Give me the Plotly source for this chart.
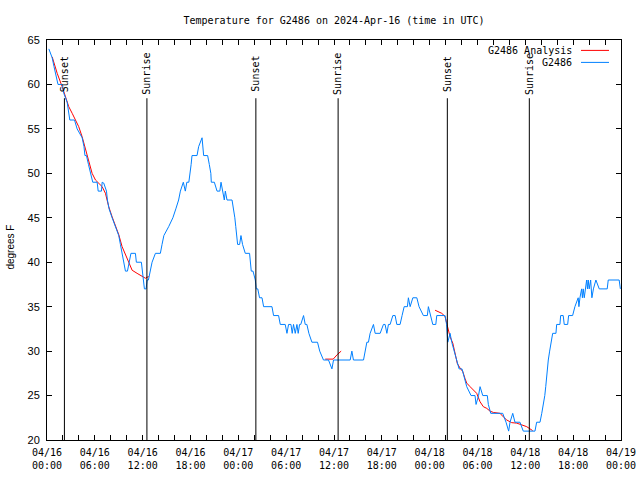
import pandas as pd
import plotly.graph_objects as go

BASE = pd.Timestamp("2024-04-16 00:00")

# Observed temperatures (hours since 2024-04-16 00:00 UTC, degrees F)
obs_hours = [0.23, 0.65, 0.88, 1.13, 1.38, 1.94, 2.11, 2.53, 2.69, 2.86, 3.45, 3.78, 4.41, 4.64,
             4.76, 4.95, 5.20, 5.45, 5.74, 6.29, 6.42, 6.83, 6.92, 7.12, 7.46, 7.58, 7.79, 8.17,
             8.58, 9.00, 9.21, 9.42, 9.62, 9.84, 10.09, 10.34, 10.53, 11.09, 11.21, 11.84, 12.05,
             12.22, 12.43, 12.56, 12.72, 12.97, 13.18, 13.60, 14.22, 14.43, 14.66, 15.26, 15.79,
             16.16, 16.51, 16.73, 17.10, 17.35, 17.54, 17.79, 17.98, 18.08, 18.19, 18.82, 19.02,
             19.45, 19.65, 20.15, 20.36, 20.55, 20.61, 20.99, 21.33, 21.68, 21.83, 22.05, 22.24,
             22.37, 22.58, 23.21, 23.41, 23.56, 23.68, 23.81, 23.91, 24.16, 24.33, 24.53, 24.87,
             25.41, 25.50, 25.62, 25.84, 26.13, 26.25, 26.44, 26.66, 26.97, 27.17, 28.22, 28.42,
             29.05, 29.26, 29.88, 30.10, 30.30, 30.60, 30.76, 30.92, 31.14, 31.35, 31.51, 31.68,
             31.83, 32.18, 32.39, 32.60, 32.85, 33.23, 33.93, 34.21, 34.68, 35.31, 35.74, 35.94,
             38.03, 38.24, 38.44, 39.70, 39.91, 40.12, 40.32, 40.53, 40.95, 41.16, 41.79, 42.20,
             42.41, 42.63, 42.83, 43.04, 43.38, 43.67, 43.88, 44.29, 44.54, 44.80, 45.21, 45.33,
             45.55, 45.89, 46.39, 46.67, 47.21, 47.71, 47.84, 48.12, 48.39, 48.77, 48.89, 49.93,
             50.12, 50.27, 50.56, 50.77, 51.10, 51.37, 51.69, 52.06, 52.35, 52.65, 53.19, 53.69,
             53.82, 54.13, 54.32, 54.66, 55.23, 55.36, 55.66, 57.16, 57.58, 57.91, 58.08, 58.42,
             58.70, 59.33, 59.74, 61.21, 61.42, 61.84, 62.06, 62.28, 62.44, 62.56, 62.65, 62.78,
             62.88, 63.05, 63.21, 63.43, 63.84, 63.93, 64.34, 64.43, 64.75, 64.88, 65.31, 65.43,
             65.93, 66.22, 66.63, 66.72, 66.85, 67.06, 67.16, 67.26, 67.39, 67.51, 67.69, 67.79,
             67.89, 68.01, 68.19, 68.35, 68.54, 68.85, 69.27, 70.27, 70.40, 71.77, 71.92]
obs_temp = [64, 63, 62, 61, 60, 60, 59, 58, 57, 56, 56, 55, 54, 53,
            52, 52, 51, 50, 49, 49, 48, 48, 49, 48.9, 48, 47, 46, 45,
            44, 43, 42, 41, 40, 39, 39, 40, 41, 41, 40, 40, 38,
            37, 37, 38, 38, 39, 40, 41, 41, 42, 43, 44, 45,
            46, 47, 48, 49, 48, 49, 49, 50, 51, 52, 52, 53,
            54, 52, 52, 51, 50, 49, 49, 48, 48, 49, 48, 47,
            48, 47, 47, 46, 45, 44, 43, 42, 42, 43, 42, 41,
            41, 40, 39, 39, 38, 37, 37, 36, 36, 35, 35, 34,
            34, 33, 33, 32, 33, 33, 32, 33, 32, 33, 32, 33,
            33, 34, 33, 33, 32, 31, 31, 30, 29, 29, 28, 29,
            29, 30, 29, 29, 30, 31, 31, 32, 33, 32, 32, 33,
            33, 32, 33, 33, 34, 34, 33, 33, 34, 35, 35, 36,
            35, 36, 36, 35, 34, 34, 35, 34, 33, 33, 34, 34,
            33, 31, 32, 31, 30, 29, 28, 28, 27, 26, 25, 25,
            24, 25, 26, 25, 25, 24, 23, 23, 22, 21, 22, 23,
            22, 22, 21, 21, 22, 22, 23, 24, 25, 26, 27, 28,
            29, 30, 31, 32, 32, 33, 33, 34, 34, 33, 33, 34,
            34, 35, 36, 35, 36, 37, 36, 37, 36, 37, 38, 37,
            38, 37, 38, 36, 37, 38, 37, 37, 38, 38, 37]

# Analysis segments
ana1_hours = [0.65, 1.28, 1.90, 2.32, 2.73, 3.16, 3.57, 3.98, 4.41, 4.82, 5.24, 5.66, 6.08, 6.49,
              6.92, 7.33, 7.74, 8.17, 8.58, 9.00, 9.42, 9.84, 10.25, 10.68, 11.30, 11.93, 12.34, 12.76]
ana1_temp = [63.1, 61.25, 59.75, 58.6, 57.5, 56.75, 56.0, 55.25, 54.1, 52.8, 51.5, 50.0, 49.25, 48.9,
             48.5, 47.75, 46.25, 45.1, 44.2, 43.1, 41.75, 40.8, 40.06, 39.1, 38.75, 38.4, 38.2, 38.4]
ana2_hours = [34.90, 35.90, 36.40, 36.90]
ana2_temp = [29.1, 29.1, 29.6, 30.0]
ana3_hours = [48.68, 49.09, 49.52, 49.93, 50.15, 50.35, 50.56, 50.90, 51.19, 51.47, 51.81, 52.15,
              52.44, 52.65, 53.07, 53.48, 53.90, 54.32, 54.73, 55.16, 55.57, 55.99, 56.83, 57.24,
              57.67, 58.29, 58.92, 59.55, 60.17, 60.59, 60.92]
ana3_temp = [34.6, 34.4, 34.25, 33.9, 33.1, 32.4, 31.6, 30.9, 29.75, 28.6, 28.1, 27.7,
             26.9, 26.4, 26.0, 25.6, 25.25, 24.3, 23.75, 23.56, 23.25, 23.1, 23.0, 22.6,
             22.25, 21.95, 21.9, 21.7, 21.5, 21.25, 21.06]

sun_times = ["2024-04-16 02:11", "2024-04-16 12:32", "2024-04-17 02:12",
             "2024-04-17 12:31", "2024-04-18 02:13", "2024-04-18 12:30"]
sun_labels = ["Sunset", "Sunrise", "Sunset", "Sunrise", "Sunset", "Sunrise"]

y_ticks = [20, 25, 30, 35, 40, 45, 50, 55, 60, 65]
x_tick_hours = list(range(0, 73, 2))

RED = "#ff0000"
BLUE = "#0080ff"
MONO = "DejaVu Sans Mono"
SANS = "Liberation Sans"


def to_time(hours):
    return BASE + pd.to_timedelta(hours, unit="h")


fig = go.Figure()
a_x = list(to_time(ana1_hours)) + [None] + list(to_time(ana2_hours)) + [None] + list(to_time(ana3_hours))
a_y = ana1_temp + [None] + ana2_temp + [None] + ana3_temp
fig.add_trace(go.Scatter(x=a_x, y=a_y, mode="lines", line=dict(color=RED, width=1),
                         showlegend=False, connectgaps=False))
fig.add_trace(go.Scatter(x=to_time(obs_hours), y=obs_temp, mode="lines",
                         line=dict(color=BLUE, width=1), showlegend=False))

shapes = []
annotations = []
for t, lab in zip(sun_times, sun_labels):
    shapes.append(dict(type="line", xref="x", yref="y", x0=t, x1=t, y0=20, y1=58.45,
                       line=dict(color="black", width=1), layer="above"))
    annotations.append(dict(x=t, y=61.2, xref="x", yref="y", text=lab, textangle=-90,
                            xanchor="center", yanchor="middle",
                            showarrow=False, font=dict(family=MONO, size=10, color="black")))

# Manual legend (text right-aligned, sample line on the right)
legend_items = [("G2486 Analysis", RED, 0.974), ("G2486", BLUE, 0.944)]
for name, col, yp in legend_items:
    annotations.append(dict(x=0.918, y=yp, xref="paper", yref="paper", text=name,
                            xanchor="right", yanchor="middle", showarrow=False,
                            font=dict(family=MONO, size=10, color="black")))
    shapes.append(dict(type="line", xref="paper", yref="paper", x0=0.9303, x1=0.9791,
                       y0=yp, y1=yp, line=dict(color=col, width=1)))

annotations.append(dict(x=-0.0627, y=0.481, xref="paper", yref="paper", text="degrees F",
                        textangle=-90, xanchor="center", yanchor="middle", showarrow=False,
                        font=dict(family=SANS, size=10, color="black")))

tick_vals = [to_time(h) for h in x_tick_hours]
tick_text = [(to_time(h).strftime("%m/%d") + "<br>" + to_time(h).strftime("%H:%M")) if h % 6 == 0 else ""
             for h in x_tick_hours]

fig.update_layout(
    width=640, height=480, autosize=False,
    margin=dict(l=47, r=19, t=40, b=40, autoexpand=False),
    paper_bgcolor="white", plot_bgcolor="white",
    title=dict(text="Temperature for G2486 on 2024-Apr-16 (time in UTC)",
               x=0.5, xref="paper", xanchor="center", y=0.958, yanchor="middle",
               font=dict(family=MONO, size=10, color="black")),
    shapes=shapes, annotations=annotations,
    xaxis=dict(range=[BASE, to_time(72)], tickmode="array", tickvals=tick_vals,
               ticktext=tick_text, ticks="inside", ticklen=5, tickcolor="black",
               showline=True, linecolor="black", linewidth=1, mirror="ticks",
               showgrid=False, zeroline=False, automargin=False, ticklabelstandoff=3,
               tickfont=dict(family=MONO, size=10, color="black")),
    yaxis=dict(range=[20, 65], tickmode="array", tickvals=y_ticks,
               ticks="inside", ticklen=5, tickcolor="black",
               showline=True, linecolor="black", linewidth=1, mirror="ticks",
               showgrid=False, zeroline=False, ticklabelstandoff=4, automargin=False,
               tickfont=dict(family=SANS, size=11, color="black")),
)

fig.write_html("out.html", config={"displayModeBar": False},
               post_script="document.body.style.margin='0';")
